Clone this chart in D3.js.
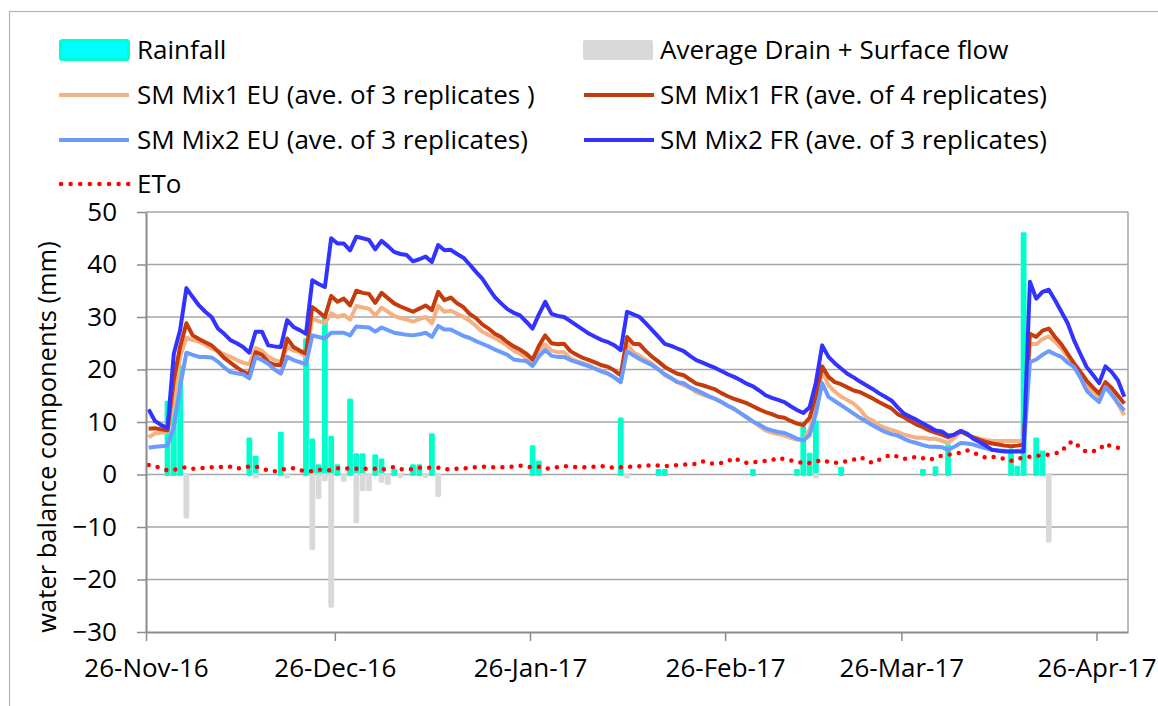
<!DOCTYPE html>
<html>
<head>
<meta charset="utf-8">
<script src="https://cdn.jsdelivr.net/npm/d3@7/dist/d3.min.js"></script>
<style>
  body { margin: 0; background: #fff; }
  text { font-family: "Open Sans", sans-serif; fill: #000; }
</style>
</head>
<body>
<div id="chart"></div>
<script>
// daily series start on 26-Nov-16 (day 0)
const tickDates = ["2016-11-26", "2016-12-26", "2017-01-26", "2017-02-26", "2017-03-26", "2017-04-26"];
const yTicks = [-30, -20, -10, 0, 10, 20, 30, 40, 50];

const rainDays = [3,4,5,16,17,21,25,26,27,28,29,30,32,33,34,36,37,39,42,43,45,61,62,75,81,82,96,103,104,105,106,110,123,125,127,137,138,139,141,142];
const rainMm = [13.8,17,20.5,6.8,3.3,7.9,25.7,6.6,1.7,29.8,7.1,1.7,14.2,3.8,3.8,3.6,2.8,0.8,1.7,1.7,7.6,5.3,2.4,10.6,0.8,0.8,0.8,0.8,8.9,3.9,10,1.2,0.8,1.3,5.5,4.7,1.4,45.9,6.8,4.3];

const drainDays = [6,17,22,26,27,28,29,31,33,34,35,37,38,40,44,46,76,106,143];
const drainMm = [-8.1,-0.5,-0.5,-14.1,-4.4,-1.0,-25.1,-1.1,-9.0,-2.9,-2.9,-1.3,-1.7,-0.4,-0.4,-4.0,-0.5,-0.5,-12.7];

const smMix1EU = [
  7.1, 7.8, 8, 8.1, 14, 22.4, 26.1, 25.6, 25.3, 24.7,
  24, 23.5, 22.9, 22.4, 21.8, 21.3, 21, 24.1, 23.6, 22.4,
  21.8, 21.4, 24.3, 23.6, 23.3, 22.4, 29.7, 29.2, 28.8, 30.7,
  30, 30.4, 29.5, 32.1, 31.8, 31.6, 30.3, 31.8, 31, 30.2,
  29.8, 29.5, 29.1, 29.6, 30, 28.8, 32.1, 31, 31.2, 30.6,
  30, 29.3, 28.3, 27.2, 26.6, 26, 25.3, 24.5, 23.6, 23,
  22.2, 21.1, 23.5, 24.8, 23.6, 23.3, 23.3, 22.1, 21.6, 21.2,
  20.8, 20.2, 19.7, 19.2, 18.4, 17.6, 24.9, 23.3, 22.6, 21.8,
  21.1, 20, 18.9, 18.3, 17.6, 17, 16.5, 15.7, 15.2, 14.8,
  14.4, 13.8, 13.1, 12.5, 11.7, 10.9, 10.1, 9.2, 8.4, 8,
  7.7, 7.4, 7, 6.6, 6.6, 8.5, 12.8, 19.8, 17, 15.8,
  14.8, 14.2, 13.5, 12.4, 10.9, 10.3, 9.4, 8.9, 8.5, 8.1,
  7.6, 7.3, 7, 7, 6.8, 6.8, 6.4, 6, 7, 8.1,
  7.6, 7.1, 6.8, 6.6, 6.4, 6.4, 6.4, 6.4, 6.4, 6.5,
  24.9, 24.8, 25.8, 26.3, 25.3, 24, 22.4, 20.6, 18.8, 17,
  15.9, 14.8, 17, 15.5, 13.4, 11.3
];

const smMix1FR = [
  8.7, 8.8, 8.6, 8.4, 18, 24.3, 28.8, 26.5, 25.8, 25.2,
  24.6, 23.5, 22.2, 21.3, 20.4, 19.6, 19.1, 23.3, 22.8, 21.4,
  20.9, 20.8, 25.9, 24.3, 23.6, 23, 31.9, 31, 30, 34,
  32.9, 33.5, 32.2, 35, 34.6, 34.4, 32.7, 34.6, 33.6, 32.6,
  32, 31.5, 31, 31.6, 32.2, 31.3, 34.8, 33.2, 33.7, 32.6,
  31.9, 30.6, 29.8, 28.6, 27.8, 26.8, 26.2, 25.2, 24.4, 23.8,
  23, 21.9, 24.5, 26.5, 25, 24.8, 24.9, 23.5, 22.8, 22.2,
  21.8, 21.3, 20.8, 20.5, 19.8, 18.9, 26.2, 24.9, 24.8, 23.5,
  22.4, 21.5, 20.5, 19.8, 19.2, 18.9, 18.1, 17.3, 17, 16.6,
  16.2, 15.5, 14.9, 14.4, 14, 13.6, 13, 12.4, 11.9, 11.5,
  11, 10.8, 10.2, 9.7, 9.4, 10.8, 15, 20.6, 18.6, 17.6,
  17.2, 16.6, 16, 15.7, 15.1, 14.5, 13.8, 13.2, 12.6, 11.5,
  10.9, 10.2, 9.5, 9, 8.4, 8, 7.6, 7.1, 7.6, 8.3,
  7.6, 7.1, 6.6, 6.2, 5.9, 5.7, 5.5, 5.4, 5.5, 5.7,
  26.8, 26.2, 27.4, 27.8, 26.2, 24.8, 23, 21.2, 19.6, 17.9,
  16.6, 15.4, 17.6, 16.5, 15, 13.5
];

const smMix2EU = [
  5.1, 5.3, 5.4, 5.5, 9, 16.7, 23.2, 22.8, 22.4, 22.4,
  22.3, 21.5, 20.4, 19.5, 19.3, 19.1, 18.3, 22.4, 21.8, 21.1,
  20, 19.2, 22.4, 21.8, 21.4, 21, 26.5, 26.2, 25.9, 27,
  27, 27, 26.5, 28.2, 28.1, 28, 27.2, 28, 27.5, 27,
  26.8, 26.6, 26.5, 26.7, 27, 26.2, 28.3, 27.6, 27.6, 27,
  26.4, 26, 25.4, 24.9, 24.4, 23.8, 23.3, 22.8, 21.9, 21.7,
  21.6, 20.7, 22.5, 23.7, 22.6, 22.4, 22.4, 21.8, 21.4, 21,
  20.6, 20.1, 19.6, 19.2, 18.5, 17.6, 23.5, 22.7, 22, 21.4,
  20.8, 20, 19.1, 18.4, 17.6, 17.4, 16.6, 16.1, 15.5, 14.9,
  14.4, 13.8, 13.1, 12.5, 11.7, 10.9, 10.1, 9.5, 8.8, 8.4,
  8.1, 7.9, 7.4, 6.8, 6.5, 7.5, 11.6, 17.4, 14.8, 14,
  13.2, 12.4, 11.6, 10.8, 10.1, 9.4, 8.7, 8.1, 7.7, 7.4,
  6.8, 6.3, 6, 5.6, 5.3, 5.3, 5.2, 4.7, 5.3, 6,
  5.9, 5.7, 5.3, 5, 4.7, 4.6, 4.5, 4.4, 4.5, 4.6,
  21.4, 21.9, 22.8, 23.5, 22.9, 22.4, 21.3, 20.5, 18.5, 16,
  14.8, 13.8, 16.7, 15.2, 13.6, 12.2
];

const smMix2FR = [
  12.4, 10.2, 9.4, 8.8, 23, 27.5, 35.5, 33.8, 32.2, 31,
  30, 27.8, 26.8, 25.6, 25, 24.3, 23.2, 27.2, 27.2, 24.6,
  24.4, 24.3, 29.4, 28.1, 27.5, 26.8, 37, 36.3, 35.7, 45,
  44, 44, 42.7, 45.3, 45, 44.7, 42.9, 44.5, 43.5, 42.4,
  42, 41.8, 40.6, 41, 41.5, 40.5, 43.7, 42.7, 42.8, 42,
  41.3, 40, 38.6, 37.3, 35.5, 33.8, 32.6, 31.5, 30.8, 30.3,
  29.1, 27.8, 30.5, 32.9, 30.6, 30.2, 30, 29.2, 28.4, 27.6,
  26.8, 26.2, 25.6, 25.2, 24.6, 23.7, 31, 30.5, 30, 28.8,
  27.5, 26.2, 24.9, 24.5, 24, 23.5, 22.6, 21.8, 21.3, 20.8,
  20.3, 19.7, 19.1, 18.6, 18, 17.3, 16.8, 16, 15.1, 14.6,
  14.2, 13.8, 13, 12.3, 11.7, 12.8, 17.5, 24.6, 22.4, 21.2,
  20.2, 19.2, 18.5, 17.7, 17, 16.3, 15.5, 14.8, 14.1, 12.8,
  11.6, 11, 10.4, 9.7, 9.1, 8.4, 8.2, 7.4, 7.6, 8.3,
  7.8, 6.8, 6.2, 5.5, 4.7, 4.5, 4.4, 4.4, 4.4, 4.4,
  36.7, 33.5, 34.8, 35.2, 33.2, 31, 28.8, 25.6, 23, 20.5,
  19, 17.4, 20.6, 19.5, 17.9, 14.8
];

const eto = [
  1.8, 1.6, 1.2, 0.8, 0.9, 1.2, 1.4, 1.1, 1.2, 1.3,
  1.4, 1.4, 1.5, 1.5, 1.1, 1.4, 1.5, 1.5, 1.1, 0.8,
  0.6, 0.9, 1.1, 1.2, 0.8, 0.7, 0.6, 0.9, 0.9, 0.8,
  1.2, 1.2, 1.1, 1.1, 1.1, 1.1, 1.1, 0.9, 1.2, 1.4,
  1, 1, 1, 1.3, 1.3, 1.3, 1.3, 1, 1, 1.1,
  1.1, 1.3, 1.4, 1.5, 1.4, 1.4, 1.4, 1.4, 1.5, 1.7,
  1.5, 1.4, 1.5, 1.1, 1.2, 1.4, 1.6, 1.5, 1.4, 1.4,
  1.4, 1.5, 1.6, 1.4, 1.3, 1.4, 1.5, 1.5, 1.6, 1.7,
  1.7, 1.7, 1.6, 1.7, 1.8, 1.9, 2, 2, 2.5, 2.2,
  2, 2.2, 2.5, 3.2, 2.5, 2.2, 2.3, 2.5, 2.6, 2.7,
  3.2, 2.9, 2.7, 2.5, 2.1, 2.2, 2.4, 2.8, 2.4, 2.2,
  2.3, 2.6, 2.8, 3.3, 2.8, 2.2, 2.8, 3.3, 3.8, 3.4,
  3, 3.1, 3.4, 3.1, 2.8, 3.2, 3.6, 3.8, 3.9, 4.2,
  4.6, 4.2, 3.6, 3.2, 3.4, 3.2, 3, 2.6, 2.9, 3.3,
  3.4, 3.5, 3.7, 3.8, 4, 4.3, 5.9, 6.3, 5, 4.3,
  4.4, 4.7, 5.9, 5.3, 5.1, 5.2
];

// readings appear to be taken in the morning, so each day sits a bit right of its tick
const dayDate = i => new Date(Date.UTC(2016, 10, 26 + i, 10));

const width = 1158, height = 706;
const svg = d3.select("#chart").append("svg")
  .attr("width", width)
  .attr("height", height);

svg.append("rect").attr("width", width).attr("height", height).attr("fill", "#fff");
// chart frame
svg.append("rect")
  .attr("x", 9.5).attr("y", 11.5)
  .attr("width", 1300).attr("height", 900)
  .attr("fill", "none").attr("stroke", "#b4b4b4").attr("stroke-width", 1.2);

const plot = { left: 146, right: 1128, top: 212, bottom: 632 };

const x = d3.scaleUtc()
  .domain([new Date(Date.UTC(2016, 10, 26)), new Date(Date.UTC(2017, 4, 1))])
  .range([plot.left, plot.right]);

const y = d3.scaleLinear()
  .domain([-30, 50])
  .range([plot.bottom, plot.top]);

// gridlines
svg.append("g")
  .selectAll("line")
  .data(yTicks.filter(v => v > -30))
  .join("line")
  .attr("x1", plot.left).attr("x2", plot.right)
  .attr("y1", d => y(d)).attr("y2", d => y(d))
  .attr("stroke", "#a6a6a6").attr("stroke-width", 1.5);

svg.append("line")
  .attr("x1", plot.right).attr("x2", plot.right)
  .attr("y1", plot.top).attr("y2", plot.bottom)
  .attr("stroke", "#a6a6a6").attr("stroke-width", 1.5);

// bars
const barW = 3;
svg.append("g")
  .selectAll("rect")
  .data(rainDays.map((d, i) => ({ d, v: rainMm[i] })))
  .join("rect")
  .attr("x", d => x(dayDate(d.d)) - barW / 2)
  .attr("y", d => y(d.v))
  .attr("width", barW)
  .attr("height", d => y(0) - y(d.v))
  .attr("fill", "#00ffcc")
  .attr("stroke", "#00ffcc")
  .attr("stroke-width", 2.8)
  .attr("stroke-linejoin", "round");

svg.append("g")
  .selectAll("rect")
  .data(drainDays.map((d, i) => ({ d, v: drainMm[i] })))
  .join("rect")
  .attr("x", d => x(dayDate(d.d)) - barW / 2)
  .attr("y", y(0))
  .attr("width", barW)
  .attr("height", d => y(d.v) - y(0))
  .attr("fill", "#d9d9d9")
  .attr("stroke", "#d9d9d9")
  .attr("stroke-width", 2.8)
  .attr("stroke-linejoin", "round");

// soil moisture lines
const line = d3.line()
  .x((d, i) => x(dayDate(i)))
  .y(d => y(d));

const series = [
  { values: smMix1EU, color: "#f4b183" },
  { values: smMix1FR, color: "#c63b0c" },
  { values: smMix2EU, color: "#6b9bff" },
  { values: smMix2FR, color: "#3333ff" }
];

series.forEach(s => {
  svg.append("path")
    .datum(s.values)
    .attr("fill", "none")
    .attr("stroke", s.color)
    .attr("stroke-width", 4)
    .attr("stroke-linejoin", "round")
    .attr("d", line);
});

svg.append("path")
  .datum(eto)
  .attr("fill", "none")
  .attr("stroke", "#ff0000")
  .attr("stroke-width", 4.5)
  .attr("stroke-linecap", "round")
  .attr("stroke-dasharray", "0 9.2")
  .attr("d", line);

// axes
const yAxis = svg.append("g")
  .attr("transform", `translate(${plot.left},0)`)
  .call(d3.axisLeft(y).tickValues(yTicks).tickSize(9).tickSizeOuter(0).tickPadding(20));

const xAxis = svg.append("g")
  .attr("transform", `translate(0,${plot.bottom})`)
  .call(d3.axisBottom(x)
    .tickValues(tickDates.map(s => new Date(s + "T00:00:00Z")))
    .tickFormat(d3.utcFormat("%d-%b-%y"))
    .tickSize(9).tickSizeOuter(0).tickPadding(18));

[yAxis, xAxis].forEach(g => {
  g.select(".domain").attr("stroke", "#8c8c8c").attr("stroke-width", 2);
  g.selectAll(".tick line").attr("stroke", "#8c8c8c").attr("stroke-width", 1.5);
  g.selectAll(".tick text")
    .attr("font-family", "'Open Sans', sans-serif")
    .attr("font-size", 26)
    .attr("fill", "#000");
});

svg.append("text")
  .attr("transform", "translate(56,437) rotate(-90)")
  .attr("text-anchor", "middle")
  .attr("font-size", 25.5)
  .text("water balance components (mm)");

// legend
const legend = svg.append("g").attr("font-size", 26);
const rows = [50, 95, 140, 184];

legend.append("rect")
  .attr("x", 60.5).attr("y", rows[0] - 9.5)
  .attr("width", 68).attr("height", 19).attr("rx", 2)
  .attr("fill", "#00ffff").attr("stroke", "#00ffcc").attr("stroke-width", 3);
legend.append("rect")
  .attr("x", 583).attr("y", rows[0] - 10)
  .attr("width", 70).attr("height", 20).attr("rx", 2)
  .attr("fill", "#d9d9d9");

const legendLines = [
  { col: 0, row: 1, color: "#f4b183", label: "SM Mix1 EU (ave. of 3 replicates )" },
  { col: 1, row: 1, color: "#c63b0c", label: "SM Mix1 FR (ave. of 4 replicates)" },
  { col: 0, row: 2, color: "#6b9bff", label: "SM Mix2 EU (ave. of 3 replicates)" },
  { col: 1, row: 2, color: "#3333ff", label: "SM Mix2 FR (ave. of 3 replicates)" }
];
const colX = [59, 584];
const textX = [137, 660];

legendLines.forEach(l => {
  legend.append("line")
    .attr("x1", colX[l.col]).attr("x2", colX[l.col] + 70)
    .attr("y1", rows[l.row]).attr("y2", rows[l.row])
    .attr("stroke", l.color).attr("stroke-width", 4);
  legend.append("text")
    .attr("x", textX[l.col]).attr("y", rows[l.row] + 8.5)
    .text(l.label);
});

legend.append("line")
  .attr("x1", 61).attr("x2", 129)
  .attr("y1", rows[3]).attr("y2", rows[3])
  .attr("stroke", "#ff0000").attr("stroke-width", 4.5)
  .attr("stroke-linecap", "round").attr("stroke-dasharray", "0 9.6");

legend.append("text").attr("x", textX[0]).attr("y", rows[0] + 8.5).text("Rainfall");
legend.append("text").attr("x", textX[1]).attr("y", rows[0] + 8.5).text("Average Drain + Surface flow");
legend.append("text").attr("x", textX[0]).attr("y", rows[3] + 8.5).text("ETo");
</script>
</body>
</html>
